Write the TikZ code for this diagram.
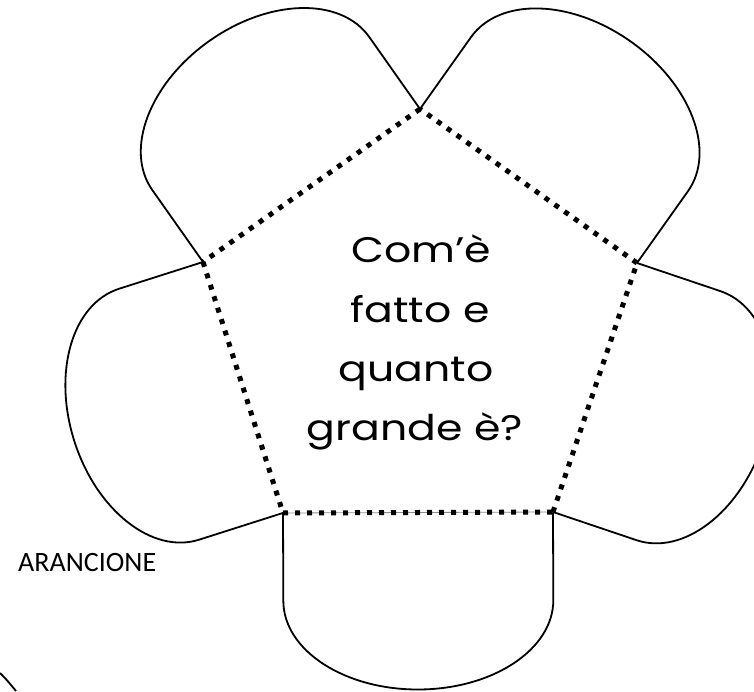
\documentclass[tikz,border=0pt]{standalone}
\usepackage{fontspec}
\newfontfamily\geofont{Poppins}[FakeStretch=1.2]
\newfontfamily\labelfont{Carlito}
\tikzset{
  petalline/.style={line width=1.8pt, line join=round},
  dotline/.style={line width=5pt, dash pattern=on 5pt off 7pt},
  thinbase/.style={line width=0.8pt, black!45},
  bigtext/.style={font=\geofont\fontsize{35.5}{40}\selectfont, anchor=base, inner sep=0pt},
  smalltext/.style={font=\labelfont\fontsize{28}{34}\selectfont, anchor=base west, inner sep=0pt}
}
\newcommand\drawpetal[3]{%
  \begin{scope}[shift={(#1)},rotate=#2]
    \draw[petalline] (0,0) -- (0,-88)
      arc[start angle=180,end angle=360,x radius=#3/2,y radius=89] -- (#3,0);
  \end{scope}}
\begin{document}
\begin{tikzpicture}[x=1pt,y=1pt]
  \useasboundingbox (0,0) rectangle (754,691);
  \clip (0,0) rectangle (754,691);
  \fill[white] (0,0) rectangle (754,691);
  % pentagon vertices
  \coordinate (T)  at (420,582);
  \coordinate (R)  at (637,428);
  \coordinate (BR) at (553,179);
  \coordinate (BL) at (283,178);
  \coordinate (L)  at (203,429);
  % petals
  \drawpetal{BL}{0.21}{270}
  \drawpetal{BR}{71.36}{262.8}
  \drawpetal{R}{144.64}{266.1}
  \drawpetal{T}{215.18}{265.5}
  \drawpetal{L}{-72.32}{263.4}
  % dotted pentagon
  \draw[thinbase] (BL) -- (BR);
  \draw[dotline] (BL) -- (BR);
  \draw[dotline] (BR) -- (R);
  \draw[dotline] (R) -- (T);
  \draw[dotline] (T) -- (L);
  \draw[dotline] (L) -- (BL);
  % text
  \node[bigtext] (l1) at (421,428) {Com’è};
  \node[bigtext] (l2) at (420,368) {fatto e};
  \node[bigtext] (l3) at (416,309) {quanto};
  \node[bigtext] (l4) at (415,251) {grande è?};
  \node[smalltext] (col) at (18,120) {ARANCIONE};
  % fragment bottom-left
  \coordinate (f1) at (0,18);
  \coordinate (f2) at (16,0);
  \draw[petalline] (f1) .. controls (6,12) .. (f2);
\end{tikzpicture}
\end{document}
